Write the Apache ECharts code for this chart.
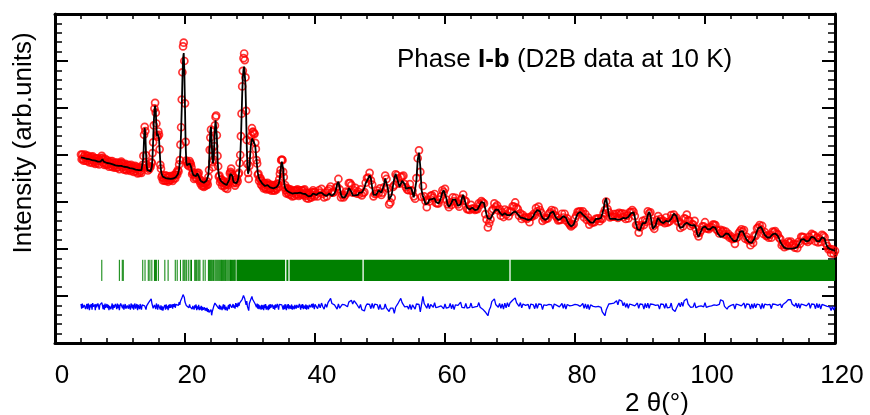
<!DOCTYPE html>
<html><head><meta charset="utf-8">
<script src="https://cdn.jsdelivr.net/npm/echarts@6/dist/echarts.min.js"></script>
<style>html,body{margin:0;padding:0;background:#fff}#c{width:870px;height:415px}</style>
</head><body><div id="c"></div>
<script>
// ---------------- DATA ----------------
const xTickLabels = ['0','20','40','60','80','100','120'];

// 2theta sampling grid (segment A: 4.0-39.9 step 0.1 ; segment B: 40.0-120.0 step 0.2)
const A_START = 4.0, A_STEP = 0.1;
const B_START = 40.0, B_STEP = 0.2;

// calculated profile (black line), segment A, one row per degree
const calcA = [
3.95,3.95,3.94,3.94,3.94,3.93,3.93,3.93,3.92,3.92,
3.92,3.91,3.91,3.91,3.90,3.90,3.90,3.89,3.89,3.89,
3.88,3.88,3.88,3.87,3.87,3.87,3.86,3.86,3.86,3.86,
3.86,3.87,3.89,3.91,3.89,3.86,3.85,3.85,3.84,3.84,
3.83,3.83,3.82,3.82,3.82,3.81,3.81,3.80,3.80,3.80,
3.79,3.79,3.79,3.78,3.78,3.78,3.77,3.77,3.77,3.77,
3.76,3.76,3.77,3.78,3.77,3.76,3.75,3.75,3.75,3.74,
3.74,3.74,3.73,3.73,3.73,3.72,3.72,3.72,3.71,3.71,
3.71,3.70,3.70,3.70,3.69,3.69,3.69,3.68,3.68,3.68,
3.67,3.67,3.67,3.68,3.69,3.72,3.95,4.35,4.58,4.45,
4.05,3.78,3.68,3.66,3.65,3.64,3.64,3.65,3.68,3.75,
3.95,4.30,4.70,4.95,5.05,4.95,4.60,4.40,4.45,4.45,
4.35,4.10,3.85,3.68,3.60,3.56,3.54,3.53,3.52,3.52,
3.51,3.51,3.50,3.50,3.50,3.50,3.49,3.49,3.49,3.49,
3.49,3.49,3.50,3.50,3.51,3.52,3.53,3.55,3.57,3.59,
3.62,3.70,3.85,4.10,4.50,5.00,5.60,6.05,6.17,5.80,
5.00,4.20,3.85,3.78,3.78,3.76,3.78,3.82,3.83,3.76,
3.70,3.64,3.60,3.57,3.55,3.54,3.54,3.55,3.58,3.61,
3.62,3.58,3.52,3.48,3.45,3.43,3.42,3.41,3.41,3.41,
3.41,3.42,3.43,3.45,3.46,3.48,3.58,3.80,4.20,4.52,
4.60,4.30,3.95,3.82,3.90,4.20,4.55,4.74,4.72,4.40,
3.95,3.70,3.58,3.52,3.48,3.45,3.43,3.42,3.41,3.40,
3.39,3.38,3.37,3.37,3.36,3.36,3.37,3.40,3.47,3.55,
3.60,3.64,3.62,3.55,3.47,3.42,3.40,3.39,3.39,3.40,
3.42,3.45,3.50,3.60,3.75,3.95,4.30,4.80,5.30,5.65,
5.82,5.88,5.85,5.50,4.90,4.20,3.80,3.60,3.57,3.70,
3.95,4.15,4.28,4.35,4.33,4.30,4.32,4.30,4.20,4.05,
3.90,3.75,3.62,3.55,3.50,3.47,3.45,3.43,3.41,3.39,
3.37,3.36,3.35,3.34,3.33,3.33,3.34,3.36,3.35,3.33,
3.32,3.31,3.30,3.30,3.29,3.29,3.29,3.30,3.30,3.31,
3.31,3.32,3.33,3.35,3.38,3.43,3.52,3.66,3.80,3.86,
3.84,3.70,3.50,3.36,3.30,3.27,3.25,3.24,3.23,3.22,
3.21,3.20,3.20,3.19,3.19,3.18,3.18,3.18,3.18,3.19,
3.19,3.20,3.20,3.19,3.18,3.18,3.19,3.20,3.21,3.20,
3.19,3.18,3.20,3.22,3.20,3.17,3.15,3.14,3.13,3.13,
3.12,3.12,3.11,3.12,3.13,3.15,3.17,3.18,3.18,3.17
];

// difference curve (obs - calc), segment A
const diffA = [
.06,-.04,.07,-.02,-.06,.04,.08,-.05,.01,.06,
-.05,.07,.02,-.07,.05,-.01,.06,-.06,.08,.00,
-.03,.05,-.07,.06,-.01,-.05,.07,.02,-.06,.04,
.02,.06,.09,.03,-.05,.04,-.06,.07,-.02,-.05,
.06,-.03,.04,-.07,.02,.06,-.05,.01,.07,-.06,
.04,-.02,-.06,.06,.01,-.05,.07,-.03,.05,-.07,
.02,.07,.09,.04,-.03,.05,-.06,.01,.06,-.04,
-.07,.03,.06,-.04,.05,-.01,-.06,.07,.02,-.03,
.05,-.06,.02,.07,-.04,.01,.06,-.07,.04,.00,
-.05,.06,-.01,-.06,.04,.07,.03,.08,.02,.06,
-.06,.02,.05,.01,.09,.06,.12,.10,.17,.08,
.09,-.03,-.07,.04,.06,-.05,.07,.02,-.06,.05,
.08,.02,-.06,.03,-.07,.01,-.08,-.02,-.06,.04,
-.06,.05,-.04,.02,-.07,.04,-.03,.06,-.02,.01,
.05,-.04,.06,.00,.07,-.02,.05,.08,.01,.09,
.03,.10,.04,.12,.09,.18,.16,.26,.22,.20,
.10,.08,.03,.07,.01,.06,-.02,.05,.00,.04,
.04,-.05,.02,.06,-.06,.03,-.03,.05,-.07,.01,
-.05,.04,-.07,.00,-.06,.02,-.08,.00,-.06,-.09,
-.01,-.08,-.03,-.09,-.02,-.11,-.05,-.12,-.09,-.15,
-.06,-.18,-.10,-.08,.00,-.01,.08,.07,.12,.02,
.03,.06,-.04,.04,-.06,.02,.05,-.07,.00,.05,
-.05,.04,-.07,.00,.03,-.08,-.01,.04,-.05,.06,
.04,.07,-.02,.01,.06,-.02,.03,-.04,.08,.00,
.07,-.01,.09,.02,.08,.05,.10,.08,.16,.14,
.24,.28,.17,.15,.04,.12,.01,.02,-.08,.07,
.05,.15,.13,.22,.16,.19,.14,.15,.06,.08,
-.01,.07,-.04,.05,-.05,.03,.06,-.06,.04,-.05,
.03,-.07,.05,-.03,.06,-.06,.02,.05,-.07,.04,
-.05,.06,-.02,-.06,.05,.07,-.04,.03,-.06,.05,
-.02,-.05,.06,.03,-.06,.05,.08,.02,.09,.04,
.05,-.06,.03,-.05,.06,-.02,-.07,.05,-.03,.06,
-.05,.03,.07,-.04,.05,-.06,.02,.06,-.05,.04,
.06,-.04,.04,.08,-.02,-.05,.06,.00,-.06,.05,
-.02,.06,-.05,.03,.07,-.04,.05,-.06,.03,.06,
-.05,.04,.08,-.01,-.04,.06,-.02,.07,.03,-.05
];

// calculated profile, segment B, one row per two degrees
const calcB = [
3.16,3.15,3.16,3.19,3.22,3.20,3.17,3.15,3.14,3.13,
3.15,3.18,3.15,3.13,3.14,3.18,3.25,3.38,3.43,3.30,
3.16,3.10,3.08,3.10,3.14,3.20,3.30,3.33,3.22,3.14,
3.12,3.14,3.12,3.15,3.20,3.22,3.20,3.22,3.30,3.40,
3.45,3.50,3.57,3.50,3.30,3.15,3.11,3.15,3.20,3.25,
3.24,3.20,3.22,3.35,3.50,3.52,3.30,3.05,3.02,3.15,
3.35,3.50,3.60,3.58,3.42,3.32,3.35,3.45,3.47,3.38,
3.28,3.25,3.30,3.33,3.30,3.20,3.10,3.12,3.45,3.90,
4.05,3.75,3.25,3.12,3.05,2.95,2.92,2.98,3.05,3.08,
3.06,3.10,3.08,3.00,2.96,2.97,3.02,3.10,3.20,3.25,
3.22,3.08,2.95,2.90,2.92,2.98,3.05,3.08,3.05,2.98,
2.92,2.90,2.95,3.08,3.15,3.05,2.95,2.88,2.85,2.84,
2.86,2.88,2.85,2.83,2.82,2.84,2.88,2.95,3.00,3.04,
2.98,2.85,2.72,2.65,2.62,2.64,2.70,2.76,2.80,2.84,
2.84,2.83,2.78,2.74,2.72,2.73,2.76,2.75,2.72,2.70,
2.72,2.74,2.77,2.79,2.80,2.79,2.74,2.70,2.67,2.66,
2.66,2.65,2.64,2.63,2.62,2.62,2.63,2.66,2.70,2.76,
2.80,2.83,2.84,2.80,2.72,2.66,2.63,2.62,2.62,2.65,
2.70,2.76,2.79,2.80,2.75,2.68,2.64,2.62,2.62,2.64,
2.68,2.70,2.69,2.66,2.60,2.54,2.50,2.48,2.48,2.52,
2.60,2.68,2.75,2.79,2.79,2.77,2.73,2.70,2.68,2.66,
2.62,2.58,2.56,2.55,2.56,2.60,2.64,2.66,2.64,2.62,
2.66,2.75,2.85,3.02,3.08,2.90,2.72,2.64,2.62,2.64,
2.66,2.64,2.62,2.62,2.62,2.63,2.64,2.66,2.66,2.65,
2.64,2.68,2.72,2.76,2.79,2.78,2.68,2.52,2.42,2.38,
2.40,2.48,2.55,2.56,2.55,2.60,2.72,2.79,2.72,2.55,
2.43,2.42,2.50,2.60,2.66,2.64,2.58,2.55,2.55,2.58,
2.60,2.58,2.58,2.60,2.64,2.70,2.75,2.76,2.70,2.60,
2.50,2.45,2.44,2.47,2.52,2.55,2.56,2.55,2.52,2.50,
2.50,2.52,2.51,2.45,2.32,2.26,2.30,2.38,2.45,2.48,
2.48,2.45,2.42,2.41,2.42,2.45,2.47,2.48,2.45,2.38,
2.32,2.28,2.26,2.26,2.27,2.30,2.33,2.34,2.32,2.28,
2.24,2.20,2.17,2.16,2.17,2.22,2.30,2.37,2.40,2.38,
2.32,2.25,2.20,2.16,2.14,2.13,2.13,2.16,2.22,2.30,
2.38,2.44,2.47,2.47,2.42,2.35,2.30,2.26,2.24,2.23,
2.25,2.28,2.31,2.33,2.33,2.32,2.28,2.22,2.15,2.10,
2.06,2.03,2.02,2.01,2.01,2.01,2.01,2.01,2.02,2.02,
2.02,2.04,2.08,2.14,2.20,2.23,2.21,2.18,2.16,2.16,
2.18,2.22,2.26,2.27,2.24,2.20,2.17,2.16,2.16,2.20,
2.25,2.27,2.22,2.12,2.05,2.01,2.00,1.99,1.98,1.97,
1.96
];

// difference curve (obs - calc), segment B
const diffB = [
.05,.01,-.04,.06,-.02,.08,.00,-.05,.06,-.01,
.09,.10,.18,.07,.06,.04,.05,-.05,.06,-.03,
-.06,.05,.02,.04,.08,.00,.10,.07,.14,.06,
.13,.16,.06,.07,-.03,.05,-.06,-.03,-.09,.01,
.06,.02,.05,-.04,.07,-.03,.06,.03,.04,-.06,
.05,-.05,-.02,-.04,.06,-.03,-.01,-.10,-.03,-.06,
-.03,-.14,-.01,-.01,.08,.07,.18,.09,.09,.00,
.03,.01,-.05,.05,-.06,.04,.02,-.05,.06,.03,
.05,-.11,-.14,.22,.07,.07,-.03,.07,-.04,.05,
.08,-.01,.09,-.02,.01,.00,.03,.02,.05,-.04,
.06,-.03,.00,-.01,.07,-.04,.05,-.06,.04,.01,
.03,.00,.10,-.01,.01,-.02,.07,-.03,.00,-.01,
.08,-.02,.01,.00,.03,.01,.09,-.01,.02,-.05,
-.01,-.11,-.09,-.19,-.07,-.01,.11,.09,.17,.05,
.09,-.01,.07,-.03,.06,-.05,.08,-.02,.09,.00,
.08,.05,.14,.11,.19,.09,.11,.01,.09,-.02,
.06,.02,.03,.01,.05,-.05,.06,.03,.04,-.04,
.07,-.03,.06,.03,.05,-.06,.04,.01,.03,.00,
.05,.02,.04,-.05,.06,.03,.03,-.01,.00,-.02,
.07,-.03,.06,-.05,.05,.02,.02,.00,.03,.01,
.05,.03,.04,.00,.01,-.01,.07,-.03,.06,-.04,
.05,-.06,.04,.01,.01,-.03,.00,-.02,.01,-.03,
-.01,-.11,-.09,-.19,-.07,-.05,.06,.03,.07,.05,
.08,.05,.13,.04,.15,.11,.12,.02,.09,-.01,
.07,-.03,.06,.03,.04,.01,.02,-.01,.08,-.03,
.06,.03,.05,-.05,.07,-.02,.08,-.03,.06,.04,
.05,.01,.03,.02,.04,-.05,.06,.03,.05,-.03,
.07,-.02,.00,-.01,.08,-.05,-.02,-.10,-.03,-.02,
.08,.00,.10,.01,.13,.09,.17,.06,.08,-.01,
.03,.00,.09,-.02,.01,.01,.05,.02,.03,.00,
.09,-.01,.02,.01,.04,.02,.05,.04,.06,.03,
.07,.05,.15,.11,.12,.01,.04,-.05,.00,-.04,
.03,.01,.05,-.05,.06,.03,.04,.01,.02,-.01,
.08,-.03,.06,.03,.05,-.05,.06,-.03,.07,-.02,
.06,.02,.04,-.05,.07,-.03,.06,.02,.04,.01,
.05,-.04,.06,.03,.05,.01,.03,.02,.06,-.02,
.05,.01,.09,.05,.15,.12,.15,.06,.09,.01,
.08,-.02,.07,-.03,.06,.03,.04,.01,.02,-.01,
.08,-.03,.06,.03,.05,-.04,.07,-.02,.06,-.05,
.05,.01,.03,.00,.01,-.02,.00,-.08,.01,-.07,
.00
];

// Bragg reflection positions (green ticks) resolved individually
const braggTicks = [7.2,9.9,10.35,10.5,13.5,13.85,14.35,14.6,14.9,15.3,15.45,15.6,15.9,16.9,17.4,
 18.5,18.8,19.3,19.7,19.85,20.0,20.2,20.5,20.8,21.0,21.5,21.65,21.8,22.0,22.15,22.3,22.8,23.1,
 23.6,23.75,23.9,24.05,24.2,24.4,24.6,24.75,24.9,25.05,25.2,25.35,25.5,25.6,25.75,25.9,26.05,
 26.2,26.3,26.45,26.6,26.75,26.9,27.0,27.15,27.3,27.45,27.6,27.7,27.85];
// ranges where Bragg ticks merge into a solid block
const braggBands = [[28.0,35.4],[35.6,35.9],[36.1,47.3],[47.5,69.9],[70.1,120.0]];

const DIFF_OFFSET = 0.77;     // baseline of difference curve
const BRAGG_LOW = 1.32, BRAGG_HIGH = 1.77;

// ---------------- BUILD ----------------
const theta = [], calc = [], diff = [];
calcA.forEach((v, i) => { theta.push(+(A_START + i * A_STEP).toFixed(2)); calc.push(v); diff.push(diffA[i]); });
calcB.forEach((v, i) => { theta.push(+(B_START + i * B_STEP).toFixed(2)); calc.push(v); diff.push(diffB[i]); });
const obsData  = theta.map((t, i) => [t, +(calc[i] + diff[i]).toFixed(3)]);
const calcData = theta.map((t, i) => [t, calc[i]]);
const diffData = theta.map((t, i) => [t, +(DIFF_OFFSET + diff[i]).toFixed(3)]);

const FONT = '"Liberation Sans", Arial, Helvetica, sans-serif';
const axisLineStyle = { show: true, onZero: false, lineStyle: { color: '#000', width: 3 } };

function xAx(pos, showLabel) {
  return {
    type: 'value', min: 0, max: 120, interval: 20, position: pos,
    axisLine: axisLineStyle,
    axisTick: { show: true, inside: true, length: 10, lineStyle: { color: '#000', width: 2 } },
    minorTick: { show: true, splitNumber: 5, length: 5, lineStyle: { color: '#000', width: 1.5 } },
    splitLine: { show: false }, minorSplitLine: { show: false },
    axisLabel: showLabel ? {
      show: true, fontSize: 26, color: '#000', fontFamily: FONT, margin: 20, padding: [0, 0, 0, 14],
      formatter: v => (xTickLabels.indexOf(String(v)) >= 0 ? String(v) : '')
    } : { show: false }
  };
}
function yAx(pos) {
  return {
    type: 'value', min: 0, max: 7, interval: 1, position: pos,
    axisLine: axisLineStyle,
    axisTick: { show: true, inside: true, length: 13, lineStyle: { color: '#000', width: 2 } },
    minorTick: { show: true, splitNumber: 5, length: 7, lineStyle: { color: '#000', width: 1.5 } },
    splitLine: { show: false }, minorSplitLine: { show: false },
    axisLabel: { show: false }
  };
}

const chart = echarts.init(document.getElementById('c'), null, { renderer: 'canvas' });
chart.setOption({
  animation: false,
  backgroundColor: '#fff',
  grid: { left: 55, right: 35, top: 14, bottom: 72, containLabel: false },
  xAxis: [xAx('bottom', true), xAx('top', false)],
  yAxis: [yAx('left'), yAx('right')],
  series: [
    {
      type: 'custom', name: 'bragg', xAxisIndex: 0, yAxisIndex: 0, silent: true, z: 2,
      data: braggTicks.map(t => [t, BRAGG_LOW]),
      renderItem: (params, api) => {
        const x = api.value(0);
        const p1 = api.coord([x, BRAGG_HIGH]), p2 = api.coord([x, BRAGG_LOW]);
        return { type: 'line', shape: { x1: p1[0], y1: p1[1], x2: p2[0], y2: p2[1] },
                 style: { stroke: '#008000', lineWidth: 1 } };
      }
    },
    {
      type: 'custom', name: 'braggBands', xAxisIndex: 0, yAxisIndex: 0, silent: true, z: 2,
      data: braggBands.map(b => [b[0], b[1]]),
      renderItem: (params, api) => {
        const p1 = api.coord([api.value(0), BRAGG_HIGH]), p2 = api.coord([api.value(1), BRAGG_LOW]);
        return { type: 'rect', shape: { x: p1[0], y: p1[1], width: p2[0] - p1[0], height: p2[1] - p1[1] },
                 style: { fill: '#008000' } };
      }
    },
    {
      type: 'scatter', name: 'obs', data: obsData, symbol: 'circle', symbolSize: 7, z: 3, silent: true,
      itemStyle: { color: 'rgba(255,255,255,0)', borderColor: '#ff0000', borderWidth: 1.7 }
    },
    {
      type: 'line', name: 'calc', data: calcData, showSymbol: false, z: 4, silent: true,
      lineStyle: { color: '#000', width: 1.8 }
    },
    {
      type: 'line', name: 'diff', data: diffData, showSymbol: false, z: 4, silent: true,
      lineStyle: { color: '#0000ff', width: 1.3 }
    }
  ],
  graphic: [
    { type: 'text', x: 397, y: 60, silent: true,
      style: { text: 'Phase {b|I-b} (D2B data at 10 K)', font: '26px ' + FONT, fill: '#000',
               textAlign: 'left', textVerticalAlign: 'middle', align: 'left', verticalAlign: 'middle',
               rich: { b: { fontWeight: 'bold', fontSize: 26, fontFamily: FONT, fill: '#000' } } } },
    { type: 'text', x: 24, y: 143, rotation: Math.PI / 2, silent: true,
      style: { text: 'Intensity (arb.units)', font: '26px ' + FONT, fill: '#000',
               textAlign: 'center', textVerticalAlign: 'middle', align: 'center', verticalAlign: 'middle' } },
    { type: 'text', x: 625, y: 404, silent: true,
      style: { text: '2 θ(°)', font: '26px ' + FONT, fill: '#000',
               textAlign: 'left', textVerticalAlign: 'middle', align: 'left', verticalAlign: 'middle' } }
  ]
});
</script>
</body></html>
